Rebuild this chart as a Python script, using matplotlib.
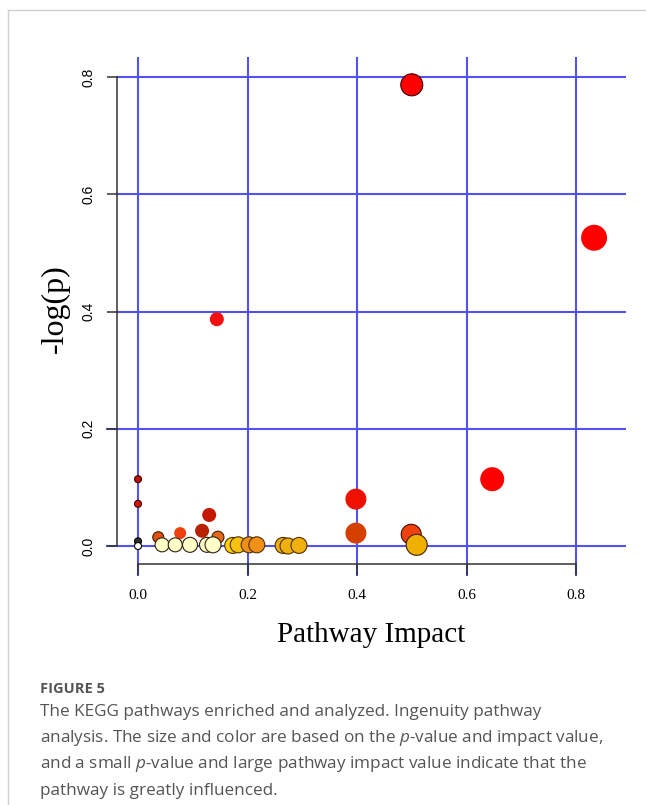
import matplotlib
matplotlib.use("Agg")
import matplotlib.pyplot as plt
from matplotlib.lines import Line2D

# ---------------- data ----------------
impact = [0.500, 0.833, 0.144, 0.647, 0.398, 0.000, 0.000, 0.130, 0.117, 0.077,
          0.398, 0.499, 0.037, 0.146, 0.000, 0.000, 0.044, 0.068, 0.095, 0.126,
          0.137, 0.173, 0.183, 0.203, 0.217, 0.265, 0.274, 0.294, 0.509]
neglogp = [0.787, 0.526, 0.387, 0.114, 0.080, 0.114, 0.072, 0.053, 0.026, 0.022,
           0.022, 0.020, 0.015, 0.015, 0.008, 0.000, 0.002, 0.002, 0.002, 0.002,
           0.002, 0.001, 0.002, 0.002, 0.002, 0.001, 0.000, 0.001, 0.002]
bubble_radius = [11, 13, 7, 12, 10.5, 3.5, 3.5, 7, 7, 6,
                 10.5, 10, 5.5, 6, 3.5, 3.5, 7, 7, 7.5, 7.5,
                 8, 8, 8, 8, 8, 8, 8, 8, 10.5]
fill_colors = ['#FF0000', '#FF0000', '#F51010', '#FF0000', '#EE1100', '#C01000', '#D01800',
               '#C41800', '#B82200', '#F04010', '#D44000', '#F04010', '#E05010', '#E86818',
               '#303030', '#FFFFFF', '#FFFFC8', '#FFFFC8', '#FFFFC8', '#FFFFC8', '#FFFFC8',
               '#FFD200', '#F8C010', '#F09018', '#F09018', '#F0B010', '#F0B010', '#F0B010',
               '#F0B000']
edge_colors = ['#400000', 'none', 'none', 'none', 'none', '#400000', '#400000',
               'none', 'none', 'none', 'none', '#401000', '#402000', '#402000',
               '#000000', '#000000', '#302010', '#302010', '#302010', '#302010', '#302010',
               '#503000', '#503000', '#503000', '#503000', '#503000', '#503000', '#503000',
               '#402000']
x_ticks = [0.0, 0.2, 0.4, 0.6, 0.8]
y_ticks = [0.0, 0.2, 0.4, 0.6, 0.8]
x_label = "Pathway Impact"
y_label = "-log(p)"
caption_title = "FIGURE 5"
caption_lines = [
    "The KEGG pathways enriched and analyzed. Ingenuity pathway",
    "analysis. The size and color are based on the $\\mathit{p}$-value and impact value,",
    "and a small $\\mathit{p}$-value and large pathway impact value indicate that the",
    "pathway is greatly influenced.",
]

# ---------------- figure ----------------
W, H, DPI = 646, 805, 100
plt.rcParams['mathtext.fontset'] = 'custom'
plt.rcParams['mathtext.it'] = 'Open Sans:italic'
plt.rcParams['mathtext.rm'] = 'Open Sans'
fig = plt.figure(figsize=(W / DPI, H / DPI), dpi=DPI)

# pixel mapping: x 0 -> 138 px, 547.5 px/unit ; y 0 -> 546 px (from top), 586 px/unit
x0, xs = 138.0, 547.5
y0, ys = 546.0, 586.0
xlim = (-0.1, 0.92)
ylim = (-0.09, 0.88)
left_px = x0 + xlim[0] * xs
right_px = x0 + xlim[1] * xs
bot_px = y0 - ylim[0] * ys
top_px = y0 - ylim[1] * ys
ax = fig.add_axes([left_px / W, (H - bot_px) / H, (right_px - left_px) / W, (bot_px - top_px) / H])
ax.set_xlim(*xlim)
ax.set_ylim(*ylim)
ax.patch.set_alpha(0)

grid_c = '#5252f0'
# horizontal grid lines
for yv in y_ticks:
    xstart = -0.058 if yv in (0.0, 0.2) else -0.04
    ax.plot([xstart, 0.892], [yv, yv], color=grid_c, lw=1.5, zorder=1, solid_capstyle='butt')
# vertical grid lines
for xv in x_ticks:
    ax.plot([xv, xv], [-0.051, 0.834], color=grid_c, lw=1.5, zorder=1, solid_capstyle='butt')

# axes (R style, offset)
for s in ['top', 'right']:
    ax.spines[s].set_visible(False)
ax.spines['left'].set_position(('data', -0.038))
ax.spines['left'].set_bounds(0, 0.8)
ax.spines['bottom'].set_position(('data', -0.031))
ax.spines['bottom'].set_bounds(0, 0.8)
for s in ['left', 'bottom']:
    ax.spines[s].set_color('#333333')
    ax.spines[s].set_linewidth(1.1)
    ax.spines[s].set_zorder(2)

ax.set_xticks(x_ticks)
ax.set_xticklabels([f"{v:.1f}" for v in x_ticks], family='Liberation Serif', fontsize=11)
ax.set_yticks(y_ticks)
ax.set_yticklabels([f"{v:.1f}" for v in y_ticks], family='Liberation Sans', fontsize=10,
                   rotation=90, va='center')
ax.tick_params(axis='x', direction='out', length=8, width=1.1, color='#333333', pad=10)
ax.tick_params(axis='y', direction='out', length=7.2, width=1.1, color='#333333', pad=8.5)

# bubbles
sizes = [(2 * r * 72 / DPI) ** 2 for r in bubble_radius]
ax.scatter(impact, neglogp, s=sizes, c=fill_colors, edgecolors=edge_colors,
           linewidths=0.8, zorder=3, clip_on=False)

# axis titles
fig.text(371 / W, 1 - 635 / H, x_label, family='Liberation Serif', fontsize=21,
         ha='center', va='center')
fig.text(55 / W, 1 - 309 / H, y_label, family='Liberation Serif', fontsize=23,
         ha='center', va='center', rotation=90)

# caption
fig.text(40 / W, 1 - 693 / H, caption_title, family='Open Sans', fontweight='bold',
         fontsize=10.5, color='#555555', ha='left', va='baseline')
baselines = [715.6, 742.0, 768.3, 794.5]
for line, b in zip(caption_lines, baselines):
    fig.text(40 / W, 1 - b / H, line, family='Open Sans', fontsize=12.3,
             color='#555555', ha='left', va='baseline')

# page border
fig.add_artist(Line2D([8 / W, 8 / W], [0, 1 - 10 / H], transform=fig.transFigure,
                      color='#d0d0d0', lw=1))
fig.add_artist(Line2D([8 / W, 1], [1 - 10 / H, 1 - 10 / H], transform=fig.transFigure,
                      color='#d0d0d0', lw=1))

fig.savefig("out.png", dpi=DPI)
